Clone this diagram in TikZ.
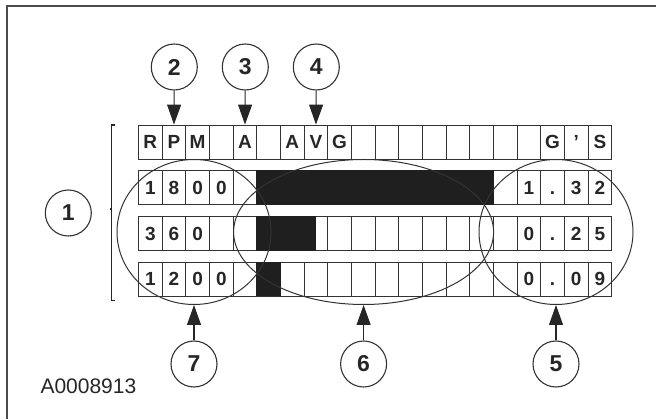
\documentclass[tikz,border=0pt]{standalone}
\usepackage{fontspec}
\setmainfont{Liberation Sans}
\usetikzlibrary{arrows.meta,shapes.geometric}

\tikzset{
  cell/.style={draw=black!80, line width=0.9pt, minimum width=23.66pt, minimum height=34pt,
    inner sep=0pt, text height=13.5pt, text depth=0pt, text=black!85, font=\bfseries\fontsize{19}{19}\selectfont},
  callout/.style={circle, draw=black!80, line width=1.1pt, minimum size=46pt, inner sep=0pt,
    text=black!85, font=\bfseries\fontsize{23}{23}\selectfont},
  group/.style={ellipse, draw=black!80, line width=1pt, inner sep=0pt, minimum height=145pt},
  pointer/.style={-{Triangle[length=20pt,width=14pt]}, line width=1.1pt, black!85},
  bar/.style={fill=black!88}
}

\begin{document}
\begin{tikzpicture}[x=1pt, y=-1pt]

    \useasboundingbox (0,0) rectangle (656,419);

    % Frame
    \draw[black!70, line width=2pt] (6.5,419) -- (6.5,6) -- (656,6);

    % Header row
    \foreach \t [count=\i from 0] in {R,P,M,{},A,{},A,V,G,{},{},{},{},{},{},{},{},G,',S}
        \node[cell] (r1c\i) at ({138.5+23.66*(\i+0.5)}, 142) {\t};

    % Data rows
    \foreach \t [count=\i from 0] in {1,8,0,0,{},{},{},{},{},{},{},{},{},{},{},{},1,.,3,2}
        \node[cell] (r2c\i) at ({138.5+23.66*(\i+0.5)}, 187.7) {\t};
    \foreach \t [count=\i from 0] in {3,6,0,{},{},{},{},{},{},{},{},{},{},{},{},{},0,.,2,5}
        \node[cell] (r3c\i) at ({138.5+23.66*(\i+0.5)}, 233.3) {\t};
    \foreach \t [count=\i from 0] in {1,2,0,0,{},{},{},{},{},{},{},{},{},{},{},{},0,.,0,9}
        \node[cell] (r4c\i) at ({138.5+23.66*(\i+0.5)}, 279) {\t};

    % Bar graphs
    \fill[bar] (r2c5.north west) rectangle (r2c14.south east);
    \fill[bar] (r3c5.north west) rectangle (r3c7.south);
    \fill[bar] (r4c5.north west) rectangle (r4c5.south east);

    % Bracket
    \draw[black!85, line width=1.3pt] (115,125) -- (111.7,125) -- (111.7,300.7) -- (115,300.7);
    \draw[black!85, line width=1.3pt] (111.7,209) -- (109.5,209);

    % Groups
    \node[group, minimum width=154pt] (e7) at (194,232) {};
    \node[group, minimum width=260pt] (e6) at (363.6,232) {};
    \node[group, minimum width=154pt] (e5) at (556,232) {};

    % Callouts
    \node[callout] (c1) at (68.3,213) {1};
    \node[callout] (c2) at (174.3,67) {2};
    \node[callout] (c3) at (245.3,67) {3};
    \node[callout] (c4) at (316.3,67) {4};
    \node[callout] (c7) at (194,364) {7};
    \node[callout] (c6) at (363.6,364) {6};
    \node[callout] (c5) at (556,364) {5};

    \draw[pointer] (c2) -- (r1c1.north);
    \draw[pointer] (c3) -- (r1c4.north);
    \draw[pointer] (c4) -- (r1c7.north);
    \draw[pointer] (c7) -- (e7.south);
    \draw[pointer] (c6) -- (e6.south);
    \draw[pointer] (c5) -- (e5.south);

    % Figure number
    \node[anchor=base west, text=black!85, font=\fontsize{21}{21}\selectfont] (fig) at (37,394) {A0008913};

\end{tikzpicture}
\end{document}
